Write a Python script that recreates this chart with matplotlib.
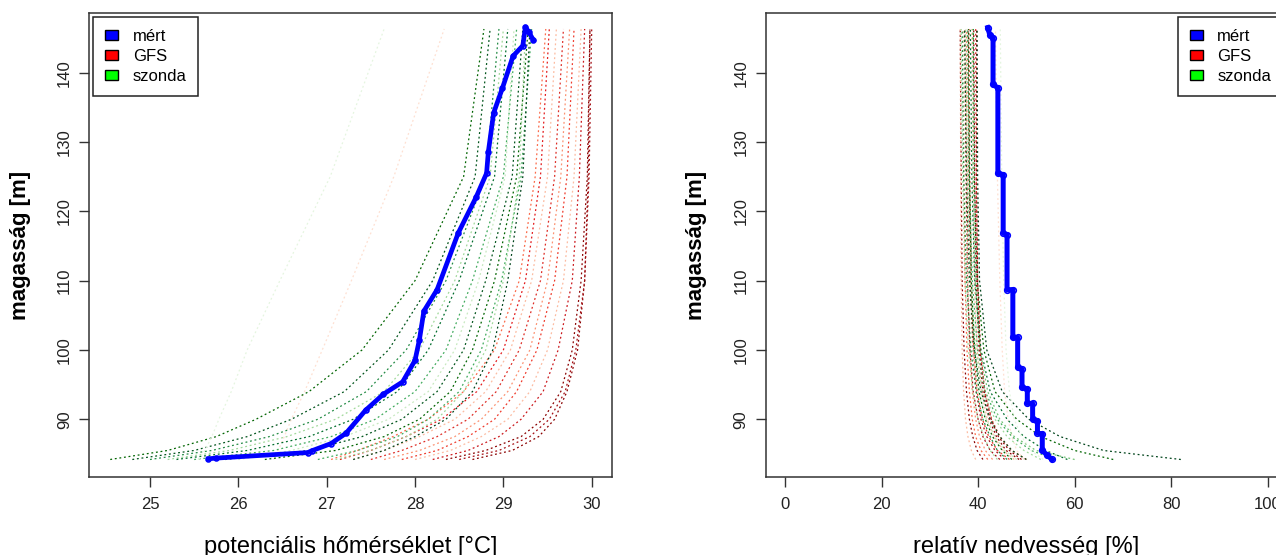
import matplotlib.pyplot as plt
from matplotlib.patches import Patch

plt.rcParams['font.family'] = ['Liberation Sans', 'DejaVu Sans']

# common height levels of the model / sonde profiles [m]
heights = [84.2, 85.5, 87.5, 90, 94, 100, 110, 125, 146.3]

# measured potential temperature
mert_theta_h = [84.3, 84.4, 85.2, 85.45, 86.5, 88.0, 91.3, 93.6, 95.4, 98.5, 101.5, 105.6,
                108.7, 116.9, 122.0, 125.5, 128.6, 134.2, 137.8, 142.4, 143.9, 146.6, 145.8, 144.7]
mert_theta = [25.66, 25.75, 26.79, 26.83, 27.05, 27.22, 27.44, 27.64, 27.86, 28.0, 28.05, 28.1,
              28.25, 28.49, 28.69, 28.81, 28.83, 28.89, 28.99, 29.11, 29.22, 29.25, 29.29, 29.34]

# GFS potential temperature profiles
gfs_theta = [
    [28.65, 29.10, 29.40, 29.58, 29.72, 29.84, 29.92, 29.96, 29.98],
    [28.50, 28.95, 29.30, 29.52, 29.70, 29.82, 29.92, 29.97, 30.00],
    [28.35, 28.80, 29.20, 29.45, 29.65, 29.78, 29.88, 29.95, 29.98],
    [28.20, 28.60, 28.95, 29.20, 29.45, 29.62, 29.78, 29.86, 29.92],
    [28.00, 28.40, 28.75, 29.05, 29.30, 29.50, 29.68, 29.80, 29.88],
    [27.85, 28.25, 28.60, 28.90, 29.15, 29.38, 29.58, 29.72, 29.80],
    [27.65, 28.05, 28.45, 28.75, 29.05, 29.30, 29.50, 29.65, 29.75],
    [27.50, 27.85, 28.25, 28.60, 28.92, 29.18, 29.42, 29.58, 29.68],
    [27.30, 27.65, 28.05, 28.45, 28.80, 29.08, 29.32, 29.50, 29.60],
    [27.15, 27.50, 27.90, 28.30, 28.70, 29.00, 29.25, 29.42, 29.52],
    [27.05, 27.35, 27.75, 28.15, 28.55, 28.90, 29.18, 29.36, 29.48],
    [26.40, 26.45, 26.52, 26.60, 26.75, 26.95, 27.28, 27.76, 28.33],
]
gfs_theta_colors = ['#8b0000', '#a50f15', '#8b0000', '#cb181d', '#fcbba1', '#ef3b2c',
                    '#fc9272', '#de2d26', '#fcbba1', '#e31a1c', '#fb6a4a', '#fee0d2']

# sonde potential temperature profiles
szonda_theta = [
    [24.55, 25.20, 25.75, 26.20, 26.80, 27.40, 28.00, 28.55, 28.78],
    [24.80, 25.50, 26.10, 26.60, 27.20, 27.70, 28.20, 28.68, 28.85],
    [25.00, 25.70, 26.35, 26.90, 27.45, 27.90, 28.35, 28.80, 28.95],
    [25.20, 25.90, 26.55, 27.10, 27.65, 28.05, 28.45, 28.85, 29.00],
    [25.30, 26.10, 26.80, 27.30, 27.80, 28.15, 28.50, 28.90, 29.05],
    [25.50, 26.40, 27.05, 27.55, 28.00, 28.35, 28.65, 29.00, 29.15],
    [25.85, 26.80, 27.40, 27.85, 28.25, 28.55, 28.80, 29.10, 29.22],
    [26.00, 26.60, 27.20, 27.70, 28.15, 28.45, 28.72, 29.02, 29.12],
    [26.30, 27.10, 27.65, 28.05, 28.40, 28.65, 28.90, 29.15, 29.28],
    [26.90, 27.35, 27.80, 28.15, 28.50, 28.75, 28.98, 29.20, 29.32],
    [27.10, 27.50, 27.90, 28.25, 28.55, 28.80, 29.00, 29.18, 29.25],
    [27.30, 27.65, 28.00, 28.35, 28.65, 28.88, 29.05, 29.22, 29.30],
    [25.55, 25.62, 25.70, 25.78, 25.92, 26.10, 26.47, 27.04, 27.65],
]
szonda_theta_colors = ['#006400', '#00541b', '#238b45', '#a1d99b', '#006d2c', '#41ab5d',
                       '#00541b', '#c7e9c0', '#006400', '#41ab5d', '#a1d99b', '#00441b', '#e5f5e0']

# measured relative humidity
mert_rh_h = [146.5, 145.5, 145.0, 138.3, 137.8, 125.5, 125.3, 116.9, 116.6, 108.7, 108.7,
             101.8, 101.8, 97.5, 97.2, 94.6, 94.4, 92.3, 92.3, 90.0, 89.8, 88.0, 87.9, 85.5,
             84.9, 84.2]
mert_rh = [42.0, 42.4, 43.1, 43.1, 44.1, 44.1, 45.2, 45.2, 46.0, 46.0, 47.2, 47.2, 48.2, 48.2,
           49.1, 49.1, 50.2, 50.2, 51.3, 51.3, 52.3, 52.3, 53.3, 53.3, 54.2, 55.3]

# GFS relative humidity profiles
gfs_rh = [
    [41.0, 39.8, 38.9, 38.2, 37.6, 37.1, 36.7, 36.5, 36.3],
    [44.5, 42.5, 41.0, 40.0, 39.0, 38.3, 37.8, 37.5, 37.3],
    [46.5, 44.0, 42.2, 40.9, 39.8, 39.1, 38.6, 38.3, 38.1],
    [39.5, 38.6, 37.9, 37.4, 37.0, 36.7, 36.5, 36.4, 36.3],
    [48.5, 45.8, 43.8, 42.3, 41.0, 40.2, 39.6, 39.3, 39.1],
    [43.0, 41.5, 40.3, 39.5, 38.8, 38.3, 37.9, 37.7, 37.6],
    [50.0, 47.0, 44.5, 42.8, 41.4, 40.5, 39.9, 39.6, 39.5],
    [42.0, 40.6, 39.5, 38.8, 38.2, 37.7, 37.3, 37.1, 37.0],
    [45.5, 43.5, 41.8, 40.6, 39.6, 38.9, 38.4, 38.1, 37.9],
    [47.5, 45.2, 43.3, 41.9, 40.7, 39.8, 39.2, 38.9, 38.7],
    [49.0, 46.5, 44.2, 42.7, 41.3, 40.4, 39.9, 39.7, 39.7],
    [49.5, 48.0, 47.0, 46.2, 45.5, 45.0, 44.5, 44.0, 43.6],
]
gfs_rh_colors = ['#8b0000', '#a50f15', '#ef3b2c', '#fcbba1', '#8b0000', '#fc9272',
                 '#de2d26', '#fb6a4a', '#a50f15', '#fcbba1', '#8b0000', '#fee0d2']

# sonde relative humidity profiles
szonda_rh = [
    [82.0, 66.0, 57.0, 50.5, 45.0, 41.8, 40.3, 39.9, 39.8],
    [68.0, 60.0, 53.0, 48.0, 43.5, 41.2, 39.8, 39.2, 39.0],
    [58.5, 54.0, 49.5, 46.0, 42.5, 40.6, 39.3, 38.7, 38.4],
    [56.0, 51.0, 47.0, 44.0, 41.5, 39.9, 38.8, 38.2, 37.8],
    [53.0, 49.5, 46.0, 43.5, 41.0, 39.5, 38.4, 37.8, 37.4],
    [50.0, 47.0, 44.5, 42.5, 40.6, 39.2, 38.2, 37.6, 37.2],
    [48.0, 45.5, 43.5, 41.7, 40.0, 38.8, 37.8, 37.2, 36.9],
    [46.0, 44.0, 42.5, 41.0, 39.6, 38.5, 37.6, 37.0, 36.7],
    [44.0, 42.5, 41.2, 40.0, 38.9, 38.0, 37.3, 36.8, 36.5],
    [47.0, 45.0, 43.0, 41.5, 40.2, 39.3, 38.6, 38.2, 38.0],
    [60.0, 52.0, 47.5, 44.5, 42.0, 40.4, 39.4, 39.0, 38.9],
    [53.5, 51.0, 49.0, 47.5, 46.5, 45.8, 45.3, 44.9, 44.6],
]
szonda_rh_colors = ['#00441b', '#006400', '#006d2c', '#41ab5d', '#a1d99b', '#00541b',
                    '#c7e9c0', '#238b45', '#a1d99b', '#006400', '#74c476', '#e5f5e0']

legend_labels = ['mért', 'GFS', 'szonda']
legend_colors = ['#0000ff', '#ff0000', '#00ff00']

fig = plt.figure(figsize=(12.76, 5.55), dpi=100)
ax1 = fig.add_axes([89.3 / 1276, 77.7 / 555, 523 / 1276, 464.6 / 555])
ax2 = fig.add_axes([765.7 / 1276, 77.7 / 555, 521.3 / 1276, 464.6 / 555])

dots = (1.5, 2.2)


def draw_panel(ax, gfs, gfs_cols, sz, sz_cols, mx, mh, lw, marker_size):
    for prof, col in zip(gfs, gfs_cols):
        ax.plot(prof, heights, color=col, lw=0.9, dashes=dots)
    for prof, col in zip(sz, sz_cols):
        ax.plot(prof, heights, color=col, lw=0.9, dashes=dots)
    ax.plot(mx, mh, color='#0000ff', lw=lw, marker='o', ms=marker_size,
            mfc='none', mec='#0000ff', mew=1.2)
    ax.set_ylim(81.63, 148.65)
    ax.set_yticks([90, 100, 110, 120, 130, 140])
    ax.tick_params(axis='both', direction='out', length=7.5, width=1, color='#333333',
                   labelsize=12, labelcolor='#222222')
    ax.tick_params(axis='x', pad=7)
    ax.tick_params(axis='y', pad=5)
    for lab in ax.get_yticklabels():
        lab.set_rotation(90)
        lab.set_va('center')
    for sp in ax.spines.values():
        sp.set_color('#333333')
        sp.set_linewidth(1.1)
    ax.set_ylabel('magasság [m]', fontsize=16, fontweight='bold')
    ax.yaxis.set_label_coords(-0.1325, 0.5)
    ax.yaxis.label.set_va('center')


draw_panel(ax1, gfs_theta, gfs_theta_colors, szonda_theta, szonda_theta_colors,
           mert_theta, mert_theta_h, 3.4, 3.5)
ax1.set_xlim(24.313, 30.233)
ax1.set_xticks([25, 26, 27, 28, 29, 30])
ax1.set_xlabel('potenciális hőmérséklet [°C]', fontsize=17)
ax1.xaxis.set_label_coords(0.5, -0.127)

draw_panel(ax2, gfs_rh, gfs_rh_colors, szonda_rh, szonda_rh_colors,
           mert_rh, mert_rh_h, 3.6, 4)
ax2.set_xlim(-4, 104)
ax2.set_xticks([0, 20, 40, 60, 80, 100])
ax2.set_xlabel('relatív nedvesség [%]', fontsize=17)
ax2.xaxis.set_label_coords(0.5, -0.127)

handles = [Patch(facecolor=c, edgecolor='black', lw=1) for c in legend_colors]
for ax, loc in [(ax1, 'upper left'), (ax2, 'upper right')]:
    leg = ax.legend(handles, legend_labels, loc=loc, fontsize=12, fancybox=False,
                    framealpha=1, edgecolor='#222222', handlelength=0.8, handleheight=0.55,
                    handletextpad=0.85, borderpad=0.7, labelspacing=0.32,
                    borderaxespad=0.25)
    leg.get_frame().set_linewidth(1.1)

fig.savefig('out.png', dpi=100)
